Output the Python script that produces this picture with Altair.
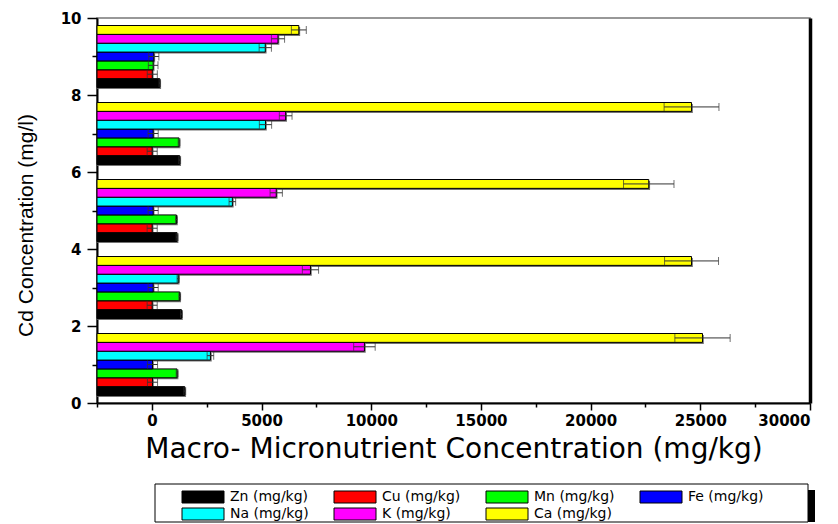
import altair as alt
import pandas as pd

# ---- data ----
cd_levels = [1, 3, 5, 7, 9]
elements = ["Zn (mg/kg)", "Cu (mg/kg)", "Mn (mg/kg)", "Fe (mg/kg)",
            "Na (mg/kg)", "K (mg/kg)", "Ca (mg/kg)"]
colors = ["#000000", "#FF0000", "#00FF00", "#0000FF", "#00FFFF", "#FF00FF", "#FFFF00"]

zn = [1500, 1350, 1150, 1270, 360]
zn_err = [40, 40, 40, 40, 30]
cu = [30, 15, 15, 15, 20]
cu_err = [230, 230, 230, 230, 230]
mn = [1150, 1270, 1120, 1240, 60]
mn_err = [40, 40, 40, 40, 220]
fe = [30, 60, 60, 60, 90]
fe_err = [230, 230, 230, 230, 230]
na = [2670, 1200, 3670, 5180, 5170]
na_err = [150, 50, 150, 280, 280]
k = [9690, 7230, 5670, 6100, 5750]
k_err = [490, 370, 280, 290, 300]
ca = [25100, 24600, 22650, 24600, 6700]
ca_err = [1260, 1230, 1150, 1250, 340]

x_ticks = [-2500, 0, 2500, 5000, 7500, 10000, 12500, 15000, 17500,
           20000, 22500, 25000, 27500, 30000]
y_ticks = [0, 1, 2, 3, 4, 5, 6, 7, 8, 9, 10]
X_MIN, X_MAX = -2500, 30000

series = [zn, cu, mn, fe, na, k, ca]
errors = [zn_err, cu_err, mn_err, fe_err, na_err, k_err, ca_err]
rows = []
for i, (name, vals, errs) in enumerate(zip(elements, series, errors)):
    for cd, v, e in zip(cd_levels, vals, errs):
        rows.append({"cd": cd, "element": name, "idx": i, "value": v, "err": e})
df = pd.DataFrame(rows)

FONT = "DejaVu Sans"

xscale = alt.Scale(domain=[X_MIN, X_MAX], nice=False, zero=False)
yscale = alt.Scale(domain=[0, 10], nice=False, zero=False)

base = alt.Chart(df).transform_calculate(
    pos="datum.cd + (datum.idx - 3) * 0.23",
    lo="datum.cd + (datum.idx - 3) * 0.23 - 0.115",
    hi="datum.cd + (datum.idx - 3) * 0.23 + 0.115",
    slo="datum.cd + (datum.idx - 3) * 0.23 - 0.155",
    shi="datum.cd + (datum.idx - 3) * 0.23 + 0.075",
    send="datum.value + 60",
    elo="datum.value - datum.err",
    ehi="datum.value + datum.err",
)

x_axis = alt.Axis(
    values=x_ticks, format="d",
    labelExpr="datum.value % 5000 == 0 && datum.value >= 0 ? datum.label : ''",
    tickSize={"condition": {"test": "datum.value % 5000 == 0", "value": 7}, "value": 4},
    labelPadding=3,
    labelFont=FONT, labelFontWeight="bold", labelFontSize=15, labelColor="black",
    title="Macro- Micronutrient Concentration (mg/kg)",
    titleFont=FONT, titleFontSize=28, titleFontWeight="normal", titleColor="black",
    titleBaseline="alphabetic", titleY=54,
    grid=False,
)

y_axis = alt.Axis(
    values=y_ticks,
    labelExpr="datum.value % 2 == 0 ? datum.label : ''",
    tickSize={"condition": {"test": "datum.value % 2 == 0", "value": 10}, "value": 5},
    labelPadding=6,
    labelFont=FONT, labelFontWeight="bold", labelFontSize=15, labelColor="black",
    title="Cd Concentration (mg/l)",
    titleFont="Liberation Sans", titleFontSize=21, titleFontWeight="normal",
    titleColor="black", titleX=-65, titleY=207, titleBaseline="alphabetic",
    grid=False,
)

right_axis = alt.Axis(orient="right", labels=False, ticks=False, title=None,
                      domainColor="black", domainWidth=3.5, grid=False)

shadow = base.mark_rect(color="#5a5a5a", opacity=0.85).encode(
    x=alt.X("send:Q", scale=xscale, axis=x_axis),
    x2=alt.datum(X_MIN),
    y=alt.Y("slo:Q", scale=yscale, axis=right_axis),
    y2="shi:Q",
)

bars = base.mark_rect(stroke="black", strokeWidth=1).encode(
    x=alt.X("value:Q", scale=xscale, axis=x_axis),
    x2=alt.datum(X_MIN),
    y=alt.Y("lo:Q", scale=yscale, axis=y_axis),
    y2="hi:Q",
    color=alt.Color(
        "element:N",
        scale=alt.Scale(domain=elements, range=colors),
        sort=elements,
        legend=alt.Legend(
            orient="none", legendX=99, legendY=472, columns=4, direction="horizontal",
            title=None,
            symbolType="M-3.5,-1L3.5,-1L3.5,1L-3.5,1Z",
            symbolSize=144, symbolStrokeColor="black", symbolStrokeWidth=1,
            symbolOpacity=1,
            labelFont=FONT, labelFontSize=14, labelColor="black", labelOffset=20,
            columnPadding=23, rowPadding=1, padding=0,
        ),
    ),
)

errs = base.mark_errorbar(ticks=True, color="#333333", thickness=1, size=8).encode(
    x=alt.X("elo:Q", scale=xscale, axis=x_axis),
    x2="ehi:Q",
    y=alt.Y("pos:Q", scale=yscale, axis=None),
)

deco_data = alt.Data(values=[{"k": 1}])
legend_shadow = alt.Chart(deco_data).mark_rect(fill="black").encode(
    x=alt.value(711), x2=alt.value(718), y=alt.value(472), y2=alt.value(504)
)
legend_box = alt.Chart(deco_data).mark_rect(fill="white", stroke="black", strokeWidth=1).encode(
    x=alt.value(58), x2=alt.value(711), y=alt.value(466), y2=alt.value(504)
)

chart = alt.layer(shadow, bars, errs, legend_shadow, legend_box).resolve_axis(
    y="independent"
).resolve_scale(y="shared").properties(
    width=713, height=385,
    autosize=alt.AutoSizeParams(type="none"),
    padding={"left": 89, "top": 10, "right": 20, "bottom": 121},
).configure_view(
    stroke="#777777", strokeWidth=1.5
).configure_axis(
    labelFont=FONT, labelFontWeight="bold", labelFontSize=15, labelColor="black",
    tickColor="black", tickWidth=1.5, domainColor="black", domainWidth=2,
)

chart.save("out.html", embed_options={"renderer": "svg", "actions": False})
